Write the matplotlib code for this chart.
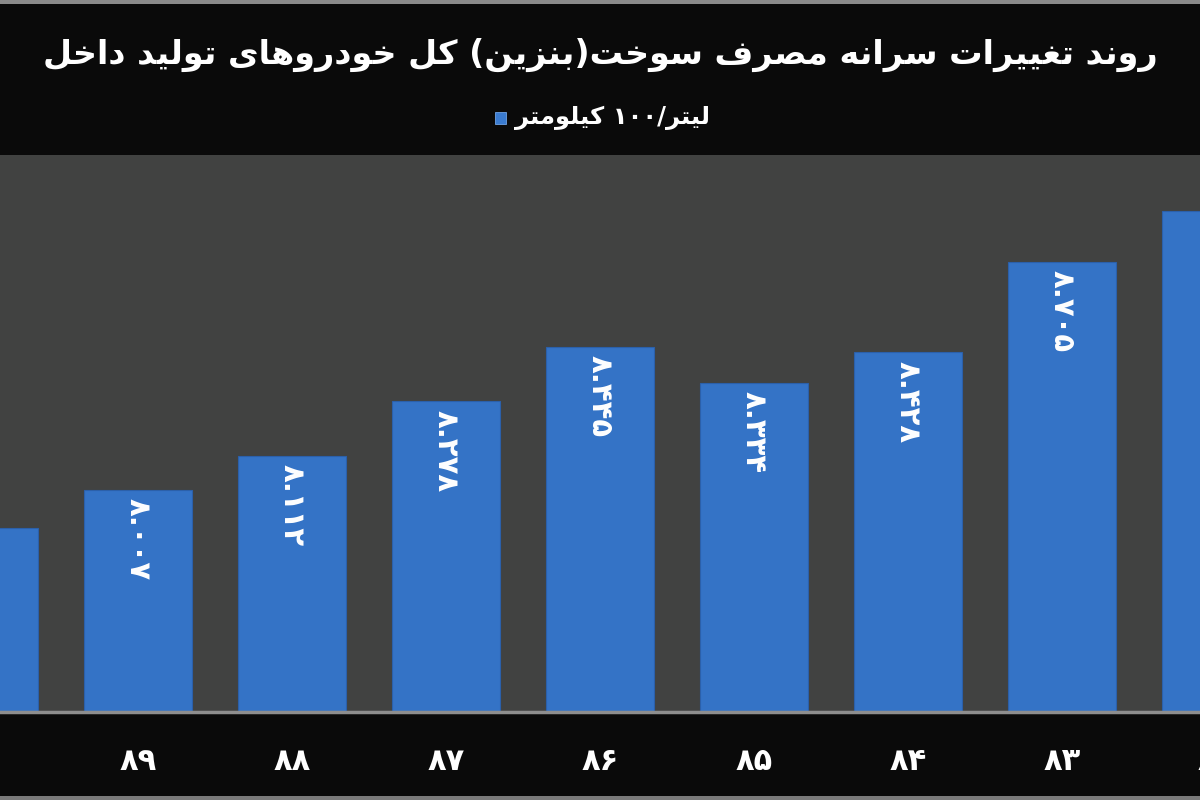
import re
import matplotlib
matplotlib.use("Agg")
import matplotlib.pyplot as plt
from matplotlib.patches import Rectangle
from matplotlib.transforms import blended_transform_factory

# ---------------- data ----------------
years = ["۹۰", "۸۹", "۸۸", "۸۷", "۸۶", "۸۵", "۸۴", "۸۳", "۸۲"]
values = [7.891, 8.007, 8.112, 8.278, 8.445, 8.334, 8.428, 8.705, 8.861]
title_text = "روند تغییرات سرانه مصرف سوخت(بنزین) کل خودروهای تولید داخل"
legend_text = "لیتر/۱۰۰ کیلومتر"

# ------------- minimal Persian shaping (presentation forms) -------------
FORMS = {
    'ا': ('\uFE8D', '\uFE8E', None, None),
    'ب': ('\uFE8F', '\uFE90', '\uFE91', '\uFE92'),
    'ت': ('\uFE95', '\uFE96', '\uFE97', '\uFE98'),
    'خ': ('\uFEA5', '\uFEA6', '\uFEA7', '\uFEA8'),
    'د': ('\uFEA9', '\uFEAA', None, None),
    'ر': ('\uFEAD', '\uFEAE', None, None),
    'ز': ('\uFEAF', '\uFEB0', None, None),
    'س': ('\uFEB1', '\uFEB2', '\uFEB3', '\uFEB4'),
    'ص': ('\uFEB9', '\uFEBA', '\uFEBB', '\uFEBC'),
    'غ': ('\uFECD', '\uFECE', '\uFECF', '\uFED0'),
    'ف': ('\uFED1', '\uFED2', '\uFED3', '\uFED4'),
    'ل': ('\uFEDD', '\uFEDE', '\uFEDF', '\uFEE0'),
    'م': ('\uFEE1', '\uFEE2', '\uFEE3', '\uFEE4'),
    'ن': ('\uFEE5', '\uFEE6', '\uFEE7', '\uFEE8'),
    'ه': ('\uFEE9', '\uFEEA', '\uFEEB', '\uFEEC'),
    'و': ('\uFEED', '\uFEEE', None, None),
    '\u06A9': ('\uFB8E', '\uFB8F', '\uFB90', '\uFB91'),
    '\u06CC': ('\uFBFC', '\uFBFD', '\uFBFE', '\uFBFF'),
}


def dual(c):
    return c in FORMS and FORMS[c][2] is not None


def shape(s):
    s = s.replace('ك', '\u06A9').replace('ي', '\u06CC')
    out = []
    for i, c in enumerate(s):
        if c not in FORMS:
            out.append(c)
            continue
        prev = s[i - 1] if i > 0 else ''
        nxt = s[i + 1] if i + 1 < len(s) else ''
        jp = dual(prev)
        jn = dual(c) and (nxt in FORMS)
        f = FORMS[c]
        if jp and jn:
            out.append(f[3])
        elif jp:
            out.append(f[1])
        elif jn:
            out.append(f[2])
        else:
            out.append(f[0])
    return ''.join(out)


def visual(s):
    rev = shape(s)[::-1]
    rev = re.sub(r'[\u06F0-\u06F90-9][\u06F0-\u06F90-9.]*', lambda m: m.group(0)[::-1], rev)
    return rev.translate(str.maketrans({'(': ')', ')': '('}))


def fa_digits(t):
    return t.translate(str.maketrans('0123456789', '۰۱۲۳۴۵۶۷۸۹'))


# ---------------- figure ----------------
plt.rcParams['font.family'] = ['DejaVu Sans']
fig = plt.figure(figsize=(12, 8), dpi=100)
fig.patch.set_facecolor('#0a0a0a')

ax = fig.add_axes([0, 88 / 800, 1, (712 - 155) / 800])
ax.set_facecolor('#414241')

x = list(range(len(years)))
bars = ax.bar(x, values, width=0.70, color='#3473c6', edgecolor='#2b60aa', linewidth=0.8, zorder=2)

for xi, v in zip(x, values):
    ax.annotate(fa_digits(f"{v:.3f}"), (xi, v), xytext=(0, -6), textcoords='offset points',
                rotation=-90, ha='center', va='top', color='white', fontsize=21,
                fontweight='bold', annotation_clip=False, zorder=3)

# category labels (drawn as texts so the partly visible edge ones also show)
ax.set_xticks([])
ax.set_yticks([])
trans = blended_transform_factory(ax.transData, ax.transAxes)
for xi, lab in zip(x, years):
    ax.text(xi, -50 / 557, lab, transform=trans, ha='center', va='center', color='white',
            fontsize=22, fontweight='bold', clip_on=False)

ax.set_xlim(0.104, 7.896)
ax.set_ylim(7.328, 9.032)
for s in ['top', 'left', 'right']:
    ax.spines[s].set_visible(False)
ax.spines['bottom'].set_color('#8e8e8e')
ax.spines['bottom'].set_linewidth(2.5)

# title and legend
fig.text(0.5, 1 - 55 / 800, visual(title_text), ha='center', va='center', color='white',
         fontsize=24, fontweight='bold')
fig.text(515 / 1200, 1 - 118 / 800, visual(legend_text), ha='left', va='center', color='white',
         fontsize=17.5, fontweight='bold')
fig.patches.append(Rectangle((495 / 1200, 1 - 124 / 800), 11 / 1200, 12 / 800,
                             transform=fig.transFigure, facecolor='#3a7bd0', edgecolor='#6fa3e6',
                             linewidth=0.6))

# frame lines
fig.patches.append(Rectangle((0, 1 - 4 / 800), 1, 4 / 800, transform=fig.transFigure,
                             facecolor='#8a8a8a', edgecolor='none'))
fig.patches.append(Rectangle((0, 0), 1, 4 / 800, transform=fig.transFigure,
                             facecolor='#7a7a7a', edgecolor='none'))

fig.savefig('out.png', dpi=100, facecolor=fig.get_facecolor())
